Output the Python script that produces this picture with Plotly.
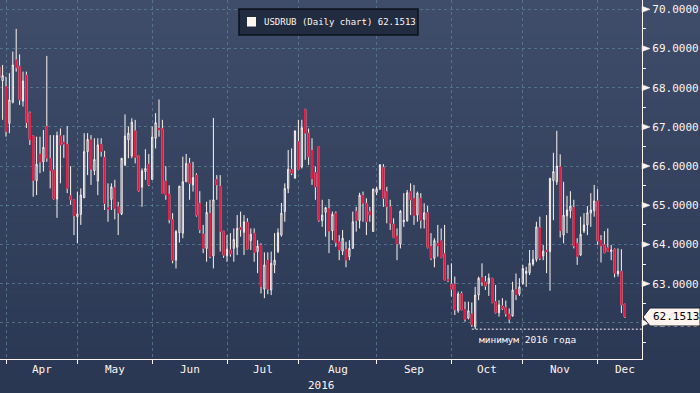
import numpy as np
import pandas as pd
import plotly.graph_objects as go

# ---------------- data ----------------
start_date = "2016-03-30"          # first visible business day
series_name = "USDRUB (Daily chart)"
y_ticks = [62, 63, 64, 65, 66, 67, 68, 69, 70]
year_label = "2016"
min_note = "минимум 2016 года"

open_p = [68.53, 68.18, 68.03, 67.09, 67.63, 68.71, 68.55, 67.66, 68.32, 67.36,
          66.77, 65.63, 66.31, 66.11, 67.01, 66.20, 65.90, 65.16, 66.77, 66.61,
          66.56, 65.24, 65.14, 64.71, 64.77, 65.19, 66.37, 66.67, 65.88, 65.62,
          66.56, 66.22, 64.94, 65.15, 65.45, 64.96, 64.78, 66.03, 66.67, 66.26,
          66.90, 66.26, 65.46, 65.86, 66.05, 65.66, 66.71, 66.97, 66.95, 65.62,
          65.29, 64.63, 63.60, 64.30, 64.29, 65.60, 66.07, 65.52, 65.77, 65.05,
          64.27, 63.90, 64.80, 63.71, 65.66, 65.49, 64.34, 63.71, 63.86, 63.90,
          63.93, 64.43, 64.31, 64.57, 64.10, 64.29, 63.82, 63.99, 62.86, 63.60,
          62.84, 63.48, 63.82, 64.24, 64.84, 65.43, 65.92, 65.69, 66.62, 65.98,
          67.45, 66.84, 66.41, 65.83, 66.50, 64.61, 64.82, 64.92, 64.35, 64.80,
          64.07, 63.83, 63.88, 63.69, 63.90, 64.84, 64.61, 65.26, 65.05, 64.84,
          64.33, 65.33, 65.42, 65.97, 65.35, 64.96, 64.52, 64.22, 64.01, 64.58,
          64.61, 65.35, 65.18, 64.75, 65.18, 64.64, 64.81, 63.96, 63.65, 64.03,
          64.10, 63.76, 63.11, 62.99, 62.99, 62.31, 62.75, 62.35, 62.12, 62.23,
          61.90, 62.71, 63.16, 63.05, 63.01, 63.14, 62.54, 62.26, 62.43, 62.40,
          62.23, 62.18, 62.86, 62.74, 63.01, 63.26, 63.28, 63.50, 63.62, 64.43,
          63.71, 63.84, 63.82, 65.63, 65.60, 65.98, 64.24, 64.73, 64.86, 64.95,
          64.03, 63.73, 64.34, 64.50, 64.80, 64.86, 65.11, 64.11, 63.99, 63.92,
          63.82, 63.88, 63.25, 63.32, 62.48]
high_p = [69.24, 68.58, 68.28, 68.37, 68.92, 69.50, 68.85, 68.41, 68.41, 67.39,
          66.77, 66.75, 66.75, 66.92, 68.81, 66.79, 66.79, 66.88, 66.96, 66.79,
          67.02, 66.00, 65.14, 65.35, 65.43, 66.84, 66.84, 66.79, 66.71, 66.71,
          66.71, 66.39, 65.56, 65.56, 65.65, 65.09, 66.20, 67.32, 67.01, 67.22,
          67.18, 66.26, 65.94, 66.43, 66.31, 67.01, 67.35, 67.70, 67.18, 66.00,
          65.51, 64.80, 64.37, 65.49, 66.24, 66.31, 66.21, 66.11, 65.82, 65.36,
          64.50, 65.09, 65.14, 67.23, 65.77, 65.77, 64.34, 64.24, 64.29, 64.41,
          64.75, 64.84, 64.75, 64.67, 64.41, 64.41, 64.11, 64.03, 63.80, 63.80,
          63.82, 64.29, 64.41, 65.06, 65.56, 66.41, 66.45, 66.90, 67.18, 67.18,
          67.45, 66.96, 66.71, 65.99, 66.50, 65.14, 64.96, 65.16, 64.84, 64.84,
          64.24, 64.37, 64.07, 64.11, 64.84, 64.96, 65.32, 65.35, 65.18, 64.96,
          65.43, 65.47, 66.05, 66.05, 65.47, 65.14, 64.67, 64.41, 64.88, 65.31,
          65.39, 65.56, 65.52, 65.35, 65.31, 65.05, 64.98, 64.29, 64.16, 64.50,
          64.41, 64.50, 63.48, 63.52, 63.18, 62.80, 62.80, 62.54, 62.54, 62.52,
          62.92, 63.18, 63.52, 63.20, 63.26, 63.14, 62.97, 62.58, 62.63, 62.57,
          62.37, 63.05, 63.26, 63.14, 63.48, 63.43, 63.86, 63.86, 64.58, 64.71,
          63.99, 64.75, 65.69, 66.34, 66.90, 66.30, 65.60, 65.24, 65.36, 65.14,
          64.16, 64.71, 64.80, 64.98, 65.31, 65.52, 65.41, 64.24, 64.34, 64.41,
          63.99, 63.90, 63.90, 63.88, 62.48]
low_p = [67.94, 67.18, 66.75, 66.84, 67.60, 68.41, 67.56, 67.52, 66.97, 66.54,
         65.22, 65.26, 65.82, 65.86, 66.11, 65.43, 65.14, 64.68, 65.56, 66.21,
         65.31, 65.01, 64.24, 64.03, 64.50, 65.19, 65.77, 65.52, 65.77, 65.26,
         66.24, 64.88, 64.58, 64.88, 64.64, 64.24, 64.75, 66.00, 66.20, 66.20,
         66.07, 65.35, 64.96, 65.65, 65.49, 65.65, 66.45, 66.75, 65.31, 65.14,
         64.54, 63.52, 63.39, 64.05, 64.16, 65.60, 65.14, 65.35, 64.71, 64.29,
         63.78, 63.56, 63.65, 63.39, 65.14, 63.82, 63.66, 63.56, 63.69, 63.56,
         63.73, 64.20, 63.73, 63.86, 63.86, 63.56, 63.27, 62.75, 62.63, 62.73,
         62.71, 63.27, 63.78, 64.20, 64.58, 65.31, 65.77, 65.69, 65.90, 65.94,
         66.16, 66.03, 65.52, 65.14, 64.58, 64.45, 64.20, 63.78, 64.11, 63.94,
         63.60, 63.73, 63.42, 63.60, 63.90, 64.33, 64.41, 64.58, 64.24, 64.58,
         64.33, 65.26, 65.39, 64.96, 64.54, 64.37, 64.16, 63.60, 63.90, 64.45,
         64.58, 64.75, 64.50, 64.58, 64.41, 64.41, 63.90, 63.60, 63.42, 63.69,
         63.65, 63.09, 63.04, 62.67, 62.20, 62.26, 62.33, 62.03, 62.09, 61.90,
         61.84, 62.58, 62.94, 62.84, 62.69, 62.50, 62.24, 62.16, 62.33, 62.16,
         61.99, 62.16, 62.58, 62.69, 62.97, 62.92, 63.22, 63.45, 63.56, 63.60,
         63.60, 63.27, 62.82, 64.62, 65.52, 64.18, 64.03, 64.29, 64.67, 63.90,
         63.48, 63.71, 64.29, 64.24, 64.45, 64.71, 63.99, 63.54, 63.78, 63.82,
         63.60, 63.16, 63.18, 62.25, 62.13]
close_p = [68.25, 68.31, 66.88, 67.69, 68.58, 68.51, 67.69, 68.17, 67.11, 66.67,
           65.63, 66.05, 66.10, 66.48, 66.20, 65.88, 65.16, 66.78, 66.54, 66.56,
           65.43, 65.14, 64.73, 64.78, 65.26, 66.37, 66.68, 65.92, 66.17, 66.54,
           66.37, 65.05, 64.90, 65.47, 64.92, 64.80, 66.20, 66.77, 66.84, 67.12,
           66.22, 65.37, 65.88, 65.94, 65.52, 66.74, 67.11, 66.92, 65.31, 65.26,
           64.63, 63.60, 64.33, 65.49, 65.60, 66.07, 65.56, 65.71, 64.75, 64.37,
           63.90, 64.82, 63.69, 65.14, 65.52, 64.33, 63.73, 63.88, 63.76, 64.13,
           64.41, 64.39, 64.58, 63.88, 64.26, 63.79, 63.96, 62.92, 63.48, 62.86,
           63.52, 63.60, 64.30, 64.80, 65.43, 65.92, 65.82, 66.90, 65.92, 66.98,
           66.84, 66.24, 65.67, 65.47, 64.62, 64.75, 64.94, 64.34, 64.77, 64.05,
           63.86, 64.16, 63.60, 63.90, 64.58, 64.61, 65.26, 65.05, 64.58, 64.75,
           65.41, 65.42, 66.03, 65.18, 64.96, 64.54, 64.18, 64.01, 64.85, 64.62,
           65.32, 65.14, 64.74, 65.31, 64.62, 64.81, 63.93, 63.65, 64.10, 63.96,
           63.67, 63.09, 63.08, 62.86, 62.33, 62.74, 62.33, 62.09, 62.31, 61.95,
           62.71, 63.14, 63.04, 62.94, 63.14, 62.52, 62.26, 62.46, 62.37, 62.23,
           62.09, 62.84, 62.71, 62.92, 63.39, 63.32, 63.52, 63.62, 64.45, 63.65,
           63.83, 63.82, 65.69, 65.86, 66.00, 64.35, 64.75, 64.88, 64.98, 63.96,
           63.69, 64.26, 64.50, 64.81, 64.88, 65.11, 64.09, 63.96, 63.79, 63.83,
           63.86, 63.27, 63.32, 62.46, 62.1513]

# ---------------- styling ----------------
FONT = "DejaVu Sans Mono"
WHITE = "#fff4ee"
RED = "#e3173f"
GRID = "rgba(92,128,150,0.75)"
W, H = 700, 393
PL, PR, PT, PB = 0, 58, 0, 34        # plot area margins (px)
PW, PH = W - PL - PR, H - PT - PB

n = len(close_p)
x = np.arange(n)
dates = pd.bdate_range(start_date, periods=n)
month_starts = [i for i in range(n) if i == 0 or dates[i].month != dates[i - 1].month]
month_starts = [i for i in month_starts if dates[i].day <= 5]

# axis ranges: 3.4 px per business day
px_per_day = 3.4
x_lo = 2 - 6 / px_per_day
x_hi = x_lo + PW / px_per_day
y_hi = 70 + 9.3 / 39.2
y_lo = y_hi - PH / 39.2

fig = go.Figure()

# wicks + hollow bodies
fig.add_trace(go.Candlestick(
    x=x, open=open_p, high=high_p, low=low_p, close=close_p,
    increasing=dict(line=dict(color=WHITE, width=1), fillcolor="rgba(0,0,0,0)"),
    decreasing=dict(line=dict(color=WHITE, width=1), fillcolor=RED),
    whiskerwidth=0, showlegend=False, hoverinfo="skip"))

# solid red bodies for falling days (body only, no wicks)
dec = [i for i in range(n) if close_p[i] < open_p[i]]
fig.add_trace(go.Candlestick(
    x=[x[i] for i in dec],
    open=[open_p[i] for i in dec], close=[close_p[i] for i in dec],
    high=[open_p[i] for i in dec], low=[close_p[i] for i in dec],
    increasing=dict(line=dict(color=RED, width=1), fillcolor=RED),
    decreasing=dict(line=dict(color=RED, width=1), fillcolor=RED),
    whiskerwidth=0, showlegend=False, hoverinfo="skip"))

shapes = []
# vertical background gradient
top_c = np.array([63, 77, 106])
bot_c = np.array([42, 55, 83])
nb = 60
for k in range(nb):
    t = k / (nb - 1)
    c = (top_c * (1 - t) + bot_c * t).round().astype(int)
    py0 = H * k / nb - PT
    py1 = H * (k + 1) / nb - PT + 0.5
    shapes.append(dict(type="rect", xref="paper", yref="paper", layer="below",
                       x0=-PL / PW, x1=(W - PL) / PW,
                       y0=1 - py1 / PH, y1=1 - py0 / PH,
                       fillcolor=f"rgb({c[0]},{c[1]},{c[2]})", line=dict(width=0)))

# tick arrows on the right axis
for v in y_ticks:
    shapes.append(dict(type="path", xref="paper", yref="y", xsizemode="pixel",
                       ysizemode="pixel", xanchor=1, yanchor=v,
                       path="M 0,-3 L 0,3 L 8,0 Z", fillcolor=WHITE,
                       line=dict(color=WHITE, width=0.5), layer="above"))

# minimum line
imin = int(np.argmin(low_p))
shapes.append(dict(type="line", xref="x", yref="y", x0=x[imin] - 1, x1=x_hi,
                   y0=min(low_p), y1=min(low_p),
                   line=dict(color=WHITE, width=1, dash="2px,2px"), layer="above"))

# legend box
shapes.append(dict(type="rect", xref="paper", yref="paper",
                   x0=239 / PW, x1=418 / PW, y0=1 - 35 / PH, y1=1 - 9 / PH,
                   fillcolor="#222c40", line=dict(color="#0d121c", width=1.5),
                   layer="above"))
shapes.append(dict(type="rect", xref="paper", yref="paper",
                   x0=247 / PW, x1=256 / PW, y0=1 - 26.5 / PH, y1=1 - 17 / PH,
                   fillcolor=WHITE, line=dict(width=0), layer="above"))

# last price tag
shapes.append(dict(type="path", xref="paper", yref="y", xsizemode="pixel",
                   ysizemode="pixel", xanchor=1, yanchor=close_p[-1],
                   path="M 1,0 L 8,9 L 58,9 L 58,-9 L 8,-9 Z",
                   fillcolor=WHITE, line=dict(color="#1a2030", width=1), layer="above"))

annotations = []
# month labels (centered between month starts)
for j, s in enumerate(month_starts):
    nxt = month_starts[j + 1] if j + 1 < len(month_starts) else s + 22
    mid = (s + nxt) / 2
    xa = "center"
    if mid > x_hi - 4:
        mid, xa = x_hi - 1.4, "right"
    annotations.append(dict(x=mid, y=1 - 369 / PH, xref="x", yref="paper",
                            text=dates[s].strftime("%b"), showarrow=False,
                            xanchor=xa, yanchor="middle",
                            font=dict(family=FONT, size=11, color=WHITE)))
annotations.append(dict(x=0.5, y=1 - 385 / PH, xref="paper", yref="paper",
                        text=year_label, showarrow=False, yanchor="middle",
                        font=dict(family=FONT, size=11, color=WHITE)))
annotations.append(dict(x=262 / PW, y=1 - 22 / PH, xref="paper", yref="paper",
                        text=f"{series_name} {close_p[-1]:.4f}", showarrow=False,
                        xanchor="left", yanchor="middle",
                        font=dict(family=FONT, size=9, color=WHITE)))
annotations.append(dict(x=1, y=close_p[-1], xref="paper", yref="y", xshift=9,
                        text=f"{close_p[-1]:.4f}", showarrow=False,
                        xanchor="left", yanchor="middle",
                        font=dict(family=FONT, size=11, color="#000000")))
annotations.append(dict(x=x[imin] + 0.5, y=min(low_p), xref="x", yref="y", yshift=-10,
                        text=min_note, showarrow=False, xanchor="left", yanchor="middle",
                        font=dict(family=FONT, size=9.5, color=WHITE)))

minor_vals = [v - 0.5 for v in y_ticks] + [y_ticks[-1] + 0.5]

fig.update_layout(
    width=W, height=H, margin=dict(l=PL, r=PR, t=PT, b=PB, pad=0),
    paper_bgcolor="#34415f", plot_bgcolor="rgba(0,0,0,0)",
    showlegend=False, boxgap=0.5, hovermode=False,
    shapes=shapes, annotations=annotations,
    xaxis=dict(range=[x_lo, x_hi], tickmode="array", tickvals=month_starts,
               showticklabels=False, ticks="outside", ticklen=4, tickcolor=WHITE,
               showgrid=True, gridcolor=GRID, gridwidth=1, griddash="3px,3px",
               showline=True, linecolor=WHITE, linewidth=1.2, zeroline=False,
               rangeslider=dict(visible=False), fixedrange=True),
    yaxis=dict(side="right", range=[y_lo, y_hi], tickmode="array", tickvals=y_ticks,
               ticktext=[f"{v:.4f}" for v in y_ticks], ticks="outside", ticklen=7,
               tickcolor="rgba(0,0,0,0)",
               tickfont=dict(family=FONT, size=11, color=WHITE),
               showgrid=True, gridcolor=GRID, gridwidth=1, griddash="3px,3px",
               showline=True, linecolor=WHITE, linewidth=1.2, zeroline=False,
               minor=dict(tickmode="array", tickvals=minor_vals, ticks="outside",
                          ticklen=3, tickcolor=WHITE, showgrid=False),
               fixedrange=True),
)

fig.write_html("out.html")
